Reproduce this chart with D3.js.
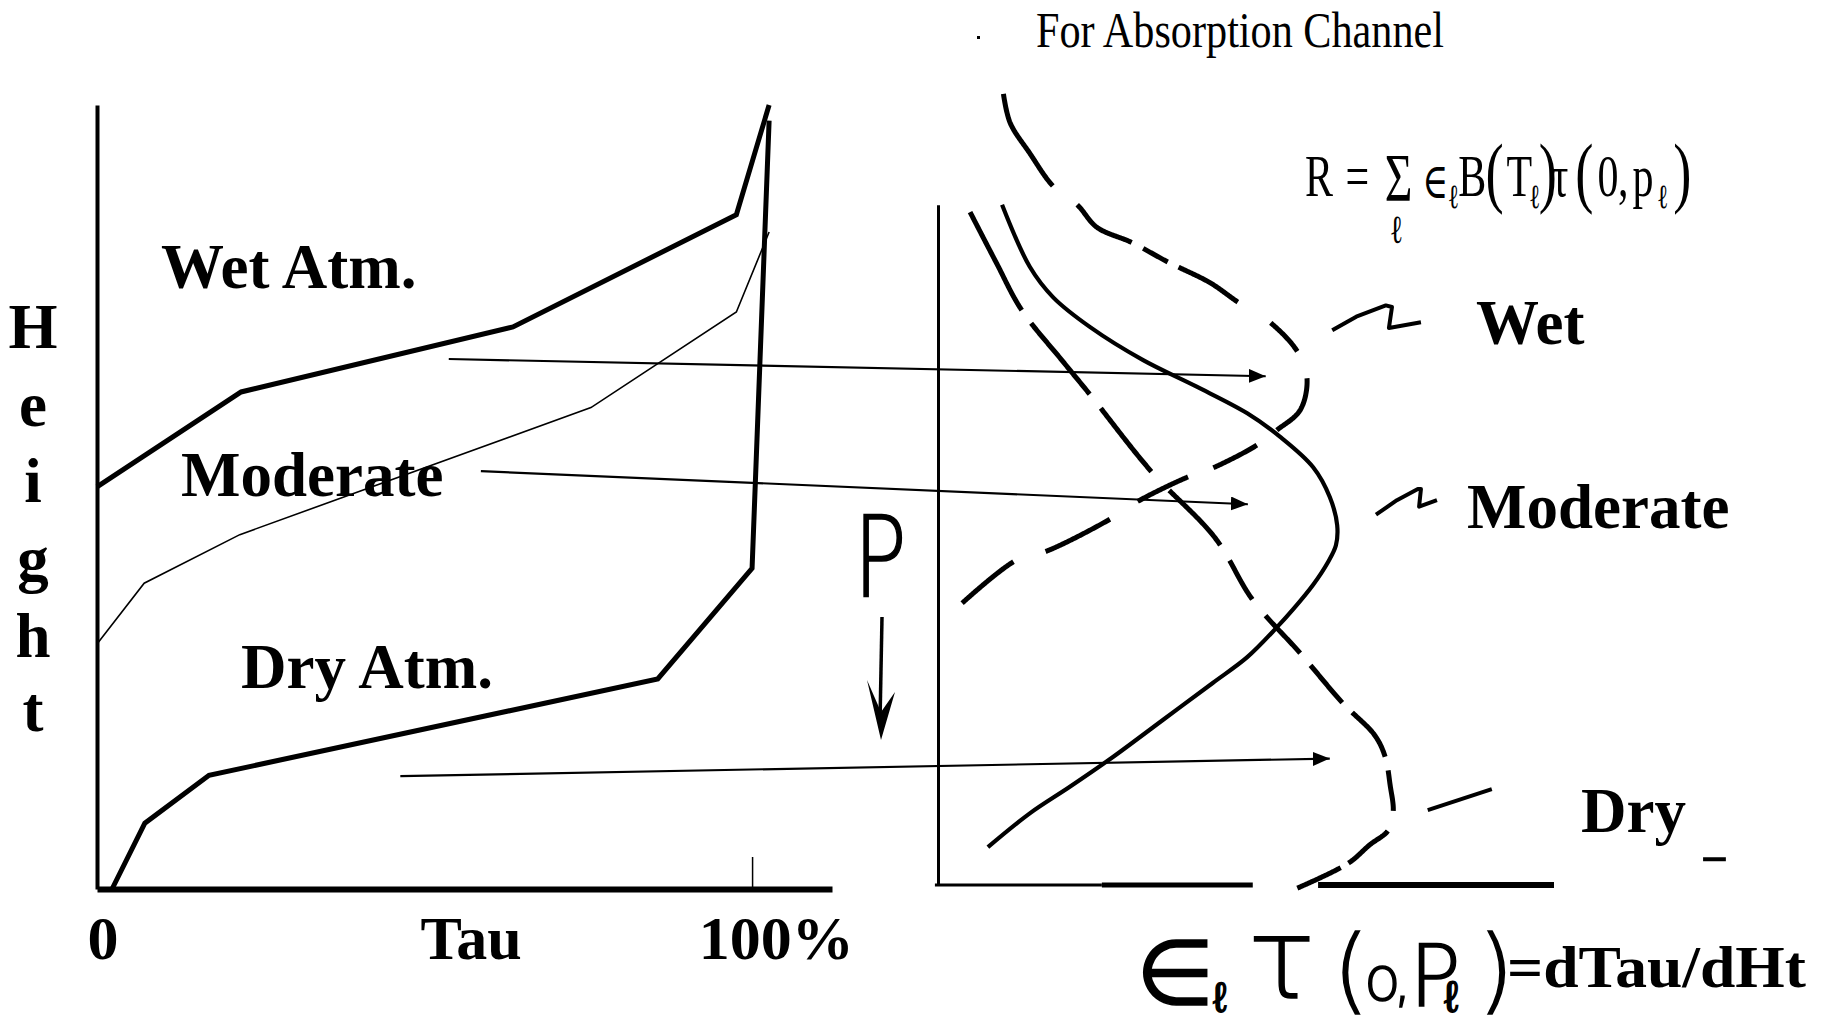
<!DOCTYPE html>
<html><head><meta charset="utf-8">
<script src="https://cdn.jsdelivr.net/npm/d3@7"></script>
<style>html,body{margin:0;padding:0;background:#fff;}svg{display:block;}</style>
</head><body>
<svg id="chart" width="1829" height="1033"></svg>
<script>
// ---------- Left panel: transmittance Tau (%) vs Height (%) ----------
const wetTau    = [0, 22.0, 63.5, 97.6, 102.6];
const wetHeight = [51.3, 63.4, 71.7, 86.0, 100];
const modTau    = [0.15, 7.2, 21.8, 75.4, 97.6, 102.6];
const modHeight = [31.4, 39.0, 45.2, 61.4, 73.6, 83.8];
const dryTau    = [2.3, 7.3, 17.1, 85.6, 100, 102.6];
const dryHeight = [0, 8.4, 14.5, 26.8, 40.9, 98.0];
const tauTicks  = [100];
const tauLabels = ["0", "Tau", "100%"];
const tauLabelPos = [0.9, 57.1, 103.7];
const heightLetters = ["H", "e", "i", "g", "h", "t"];
const leftLabels = ["Wet Atm.", "Moderate", "Dry Atm."];

// ---------- Right panel: weighting function dTau/dHt vs pressure ----------
const wetW = [10.6,11.7,14.9,18.7,22.6,25.8,31.5,37.3,44.2,48.7,53.9,58.4,59.9,58.8,55.0,51.9,44.6,40.6,32.3,27.6,17.4,12.8,3.9];
const wetP = [1.6,5.3,9.1,13.2,15.5,18.3,20.2,22.6,25.2,27.6,30.1,33.8,37.0,41.0,43.5,45.3,48.2,49.3,52.4,54.7,58.6,59.6,65.0];
const modW = [10.4,14.9,18.7,24.7,33.3,42.0,50.2,55.5,60.9,63.6,64.8,64.6,63.3,60.9,57.6,55.0,50.2,44.6,36.5,28.4,21.4,14.9,8.1];
const modP = [15.5,23.2,27.0,30.7,34.8,38.1,41.4,44.3,48.1,51.8,55.3,57.8,59.9,62.7,65.8,68.0,71.7,74.9,79.5,84.1,87.8,91.1,95.3];
const dryW = [5.2,9.4,13.6,20.1,24.7,34.7,45.0,51.1,58.8,65.7,70.9,72.6,73.4,73.9,73.1,70.1,66.6,58.3];
const dryP = [16.4,22.6,28.6,34.8,39.1,48.7,56.9,64.6,71.2,77.4,81.4,84.1,87.6,90.9,93.2,95.0,97.3,100.4];
const wetDash = [[1.6,13.2],[15.5,20.2],[20.9,22.6],[23.2,27.6],[30.1,33.8],[37.0,43.5],[45.3,48.2],[49.3,52.4],[54.5,58.6],[59.8,65.0]];
const dryDash = [[16.4,28.6],[30.2,39.1],[40.7,48.7],[50.9,57.8],[59.6,64.6],[66.5,71.2],[72.7,77.4],[78.5,84.1],[85.7,90.9],[93.2,97.3],[97.8,100.4]];
const rightLabels = ["Wet", "Moderate", "Dry"];

// arrows: from left panel (tau, height) to right panel (w, p)
const arrowTau = [53.7, 58.6, 46.3];
const arrowHeight = [67.6, 53.3, 14.4];
const arrowW = [53.2, 50.3, 63.6];
const arrowP = [36.8, 52.7, 84.3];

// squiggle pointers near right labels (right-panel units)
const wetSqW = [64.0,67.9,72.7,73.7,73.2,78.4], wetSqP = [31.1,29.4,28.0,28.2,30.8,30.1];
const modSqW = [71.1,74.5,77.9,78.4,78.1,81.0], modSqP = [54.0,52.2,50.8,50.8,53.0,52.2];
const drySqW = [79.5,89.9], drySqP = [90.7,88.1];

const svg = d3.select("#chart");
const serif = "'Liberation Serif','Times New Roman',serif";

const xL = d3.scaleLinear().domain([0,112.2]).range([97,832]);
const yL = d3.scaleLinear().domain([0,100]).range([889,105]);
const xR = d3.scaleLinear().domain([0,100]).range([938,1554]);
const yR = d3.scaleLinear().domain([0,100]).range([80,885]);

// marker
const defs = svg.append("defs");
defs.append("marker").attr("id","arr").attr("markerUnits","userSpaceOnUse")
  .attr("markerWidth",18).attr("markerHeight",14).attr("refX",17).attr("refY",7).attr("orient","auto")
  .append("path").attr("d","M0,0L17,7L0,14Z").attr("fill","#000");

// ---- left axes ----
const gx = svg.append("g").attr("transform",`translate(0,${yL(0)})`)
  .call(d3.axisBottom(xL).tickValues(tauTicks).tickSize(-32).tickSizeOuter(0).tickFormat(""));
gx.select(".domain").attr("stroke-width",6);
gx.selectAll(".tick line").attr("stroke-width",1.5);
const gy = svg.append("g").attr("transform",`translate(${xL(0)},0)`)
  .call(d3.axisLeft(yL).tickValues([]).tickSizeOuter(0));
gy.select(".domain").attr("stroke-width",4);

const lineL = d3.line().x(d=>xL(d[0])).y(d=>yL(d[1]));
svg.append("path").attr("d",lineL(d3.zip(wetTau,wetHeight))).attr("fill","none").attr("stroke","#000").attr("stroke-width",5).attr("stroke-linejoin","miter");
svg.append("path").attr("d",lineL(d3.zip(modTau,modHeight))).attr("fill","none").attr("stroke","#000").attr("stroke-width",1.6);
svg.append("path").attr("d",lineL(d3.zip(dryTau,dryHeight))).attr("fill","none").attr("stroke","#000").attr("stroke-width",5).attr("stroke-linejoin","miter");

// left texts
const leftLabelX = [161, 181, 241], leftLabelY = [288, 496, 688];
leftLabels.forEach((t,i)=>svg.append("text").attr("x",leftLabelX[i]).attr("y",leftLabelY[i])
  .attr("font-family",serif).attr("font-weight","bold").attr("font-size",63).text(t));
const hY = [348, 426, 502, 580, 657, 731];
heightLetters.forEach((t,i)=>svg.append("text").attr("x",33).attr("y",hY[i]).attr("text-anchor","middle")
  .attr("font-family",serif).attr("font-weight","bold").attr("font-size",63).text(t));
tauLabels.forEach((t,i)=>svg.append("text").attr("x",xL(tauLabelPos[i])).attr("y",959).attr("text-anchor","middle")
  .attr("font-family",serif).attr("font-weight","bold").attr("font-size",62).text(t));

// ---- right axes ----
const yRaxis = d3.scaleLinear().domain([15.5,100]).range([yR(15.5),yR(100)]);
const gyR = svg.append("g").attr("transform",`translate(${xR(0)},0)`)
  .call(d3.axisLeft(yRaxis).tickValues([]).tickSizeOuter(0));
gyR.select(".domain").attr("stroke-width",3);
const baseSegs = [[-0.5,26.6,3],[26.6,51.1,5],[61.7,100,6]];
baseSegs.forEach(s=>svg.append("line").attr("x1",xR(s[0])).attr("x2",xR(s[1])).attr("y1",yR(100)).attr("y2",yR(100))
  .attr("stroke","#000").attr("stroke-width",s[2]));

const lineR = d3.line().x(d=>xR(d[0])).y(d=>yR(d[1])).curve(d3.curveCatmullRom.alpha(0.5));
function sample(points){
  const tmp = svg.append("path").attr("d",lineR(points)).attr("fill","none");
  const n = tmp.node(), L = n.getTotalLength(), out=[];
  for(let s=0;s<=L;s+=1){const p=n.getPointAtLength(s); out.push([p.x,p.y]);}
  tmp.remove(); return out;
}
function dashed(points, dashes, w){
  const pts = sample(points);
  dashes.forEach(d=>{
    const y0=yR(d[0]), y1=yR(d[1]);
    const seg = pts.filter(p=>p[1]>=y0 && p[1]<=y1);
    if(seg.length>1) svg.append("path").attr("d",d3.line()(seg)).attr("fill","none")
      .attr("stroke","#000").attr("stroke-width",w).attr("stroke-linecap","butt");
  });
}
dashed(d3.zip(wetW,wetP), wetDash, 5);
dashed(d3.zip(dryW,dryP), dryDash, 5);
svg.append("path").attr("d",lineR(d3.zip(modW,modP))).attr("fill","none").attr("stroke","#000").attr("stroke-width",4.2);

// arrows
arrowTau.forEach((t,i)=>svg.append("line").attr("x1",xL(t)).attr("y1",yL(arrowHeight[i]))
  .attr("x2",xR(arrowW[i])).attr("y2",yR(arrowP[i])).attr("stroke","#000").attr("stroke-width",2.2)
  .attr("marker-end","url(#arr)"));

// squiggles
const lineRL = d3.line().x(d=>xR(d[0])).y(d=>yR(d[1]));
[[wetSqW,wetSqP],[modSqW,modSqP],[drySqW,drySqP]].forEach(a=>
  svg.append("path").attr("d",lineRL(d3.zip(a[0],a[1]))).attr("fill","none").attr("stroke","#000").attr("stroke-width",4).attr("stroke-linejoin","round"));
svg.append("line").attr("x1",xR(124.2)).attr("x2",xR(127.9)).attr("y1",yR(96.8)).attr("y2",yR(96.8)).attr("stroke","#000").attr("stroke-width",4);

// right labels
const rX=[1476,1467,1581], rY=[344,528,832];
rightLabels.forEach((t,i)=>svg.append("text").attr("x",rX[i]).attr("y",rY[i])
  .attr("font-family",serif).attr("font-weight","bold").attr("font-size",63).text(t));

// title
svg.append("text").attr("x",1036).attr("y",47).attr("font-family",serif).attr("font-size",50)
  .attr("textLength",408).attr("lengthAdjust","spacingAndGlyphs").text("For Absorption Channel");
svg.append("rect").attr("x",977).attr("y",36).attr("width",3).attr("height",3).attr("fill","#000");

// formula R = sum ... (single text element, tspans positioned)
const fg = svg.append("g").attr("transform","translate(1305,196) scale(0.7,1)");
const ft = fg.append("text").attr("font-family",serif);
const parts = [
  {t:"R",x:0},{t:"=",x:58},{t:"Σ",x:114,fs:68,y:4},{t:"ℓ",x:121,fs:40,y:47},
  {t:"∈",x:168,fs:50,ff:"'DejaVu Serif',serif",y:2},{t:"ℓ",x:204,s:1},{t:"B",x:219},
  {t:"(",x:258,b:1},{t:"T",x:288},{t:"ℓ",x:320,s:1},{t:")",x:334,b:1},{t:"τ",x:352},
  {t:"(",x:386,b:1},{t:"0",x:418},{t:",",x:447},{t:"p",x:468},{t:"ℓ",x:503,s:1},{t:")",x:526,b:1}
];
parts.forEach(p=>{
  const t = ft.append("tspan").attr("x",p.x).attr("y",p.y!==undefined?p.y:(p.s?12:(p.b?2:0)))
    .attr("font-size",p.fs||(p.s?34:(p.b?78:60))).text(p.t);
  if(p.ff) t.attr("font-family",p.ff);
});

// P with down arrow
const hw = "'DejaVu Sans',sans-serif";
svg.append("text").attr("x",853).attr("y",596).attr("font-family",hw).attr("font-weight",200)
  .attr("stroke","#000").attr("stroke-width",1.5)
  .attr("font-size",112).attr("textLength",54).attr("lengthAdjust","spacingAndGlyphs").text("P");
svg.append("line").attr("x1",882).attr("y1",617).attr("x2",880).attr("y2",722).attr("stroke","#000").attr("stroke-width",3.5);
svg.append("path").attr("d","M867,680L881,712L895,692L881,740Z").attr("fill","#000");

// handwritten lower formula (single text element)
const hwParts = [
  {t:"∈",x:1136,y:1004,fs:90},
  {t:"ℓ",x:1213,y:1012,fs:42},
  {t:"τ",x:1248,y:998,fs:112},
  {t:"(",x:1333,y:1002,fs:92},
  {t:"o",x:1364,y:1000,fs:60},
  {t:",",x:1393,y:1000,fs:60},
  {t:"P",x:1409,y:1006,fs:86},
  {t:"ℓ",x:1444,y:1012,fs:44},
  {t:")",x:1478,y:1002,fs:92}
];
const hwt = svg.append("text").attr("font-family",hw).attr("font-weight",200)
  .attr("stroke","#000").attr("stroke-width",1.5);
hwParts.forEach(p=>hwt.append("tspan").attr("x",p.x).attr("y",p.y).attr("font-size",p.fs).text(p.t));
svg.append("text").attr("x",1507).attr("y",987).attr("font-family",serif).attr("font-weight","bold")
  .attr("font-size",60).attr("textLength",299).attr("lengthAdjust","spacingAndGlyphs").text("=dTau/dHt");
</script>
</body></html>
